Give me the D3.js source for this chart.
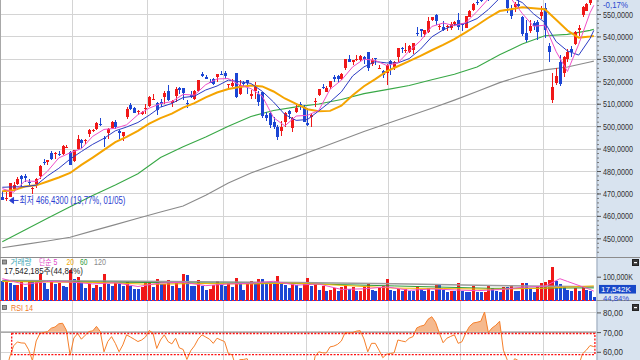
<!DOCTYPE html>
<html>
<head>
<meta charset="utf-8">
<script src="https://cdn.jsdelivr.net/npm/d3@7"></script>
<style>
  body { margin: 0; background: #fff; }
  svg { display: block; }
  text { font-family: "Liberation Sans", "Noto Sans CJK KR", sans-serif; }
</style>
</head>
<body>
<svg id="chart" width="640" height="360"></svg>
<script>
const dates = [
  "01/04","01/05","01/08","01/09","01/10","01/11","01/12","01/16","01/17","01/18","01/19","01/22","01/23","01/24","01/25","01/26","01/29","01/30","01/31",
  "02/01","02/02","02/05","02/06","02/07","02/08","02/09","02/12","02/13","02/14","02/15","02/16","02/20","02/21","02/22","02/23","02/26","02/27","02/28","02/29",
  "03/01","03/04","03/05","03/06","03/07","03/08","03/11","03/12","03/13","03/14","03/15","03/18","03/19","03/20","03/21","03/22","03/25","03/26","03/27","03/28",
  "04/01","04/02","04/03","04/04","04/05","04/08","04/09","04/10","04/11","04/12","04/15","04/16","04/17","04/18","04/19","04/22","04/23","04/24","04/25","04/26","04/29","04/30",
  "05/01","05/02","05/03","05/06","05/07","05/08","05/09","05/10","05/13","05/14","05/15","05/16","05/17","05/20","05/21","05/22","05/23","05/24","05/28","05/29","05/30","05/31",
  "06/03","06/04","06/05","06/06","06/07","06/10","06/11","06/12","06/13","06/14","06/17","06/18","06/20","06/21","06/24","06/25","06/26","06/27","06/28",
  "07/01","07/02","07/03","07/05","07/08","07/09","07/10","07/11","07/12","07/15","07/16","07/17","07/18","07/19","07/22","07/23","07/24","07/25","07/26","07/29","07/30","07/31",
  "08/01","08/02","08/05","08/06","08/07","08/08","08/09","08/12","08/13","08/14","08/15","08/16","08/19","08/20"
];

const open = [
  468.30,467.49,468.43,471.87,474.16,477.59,477.84,475.26,471.82,474.01,477.65,484.01,484.01,487.81,487.58,487.59,487.73,490.56,488.62,
  484.63,489.65,493.70,493.52,496.29,498.10,498.84,501.17,494.53,496.79,499.29,501.70,497.72,495.42,504.01,509.27,508.30,506.70,505.33,508.07,
  508.98,512.03,510.24,510.55,513.14,515.46,510.48,513.45,517.11,516.97,510.21,514.00,512.15,515.77,523.39,522.11,519.80,521.23,521.71,523.21,
  523.83,518.24,517.72,523.52,514.46,519.15,520.50,513.48,515.68,514.37,515.13,504.94,506.05,501.98,499.44,497.83,501.78,506.56,499.18,506.35,510.09,508.56,
  501.38,504.15,511.16,513.75,517.56,515.26,517.38,521.81,522.56,521.11,525.83,529.88,528.81,529.57,529.28,530.65,532.96,527.85,530.27,525.68,524.52,523.59,
  529.02,526.46,530.77,534.98,533.66,533.18,534.07,541.63,543.15,540.88,542.08,547.16,549.44,544.40,544.33,543.99,543.69,545.37,547.16,
  545.63,543.70,548.69,551.77,555.44,556.26,557.07,561.44,557.63,562.03,562.87,558.80,558.51,552.42,553.00,554.54,548.86,541.35,542.28,546.02,546.26,548.98,
  552.57,535.75,511.64,519.22,528.47,523.91,529.81,534.21,536.53,542.85,549.50,551.42,554.73,559.15
];
const high = [
  470.96,470.44,474.75,474.93,477.45,478.12,478.60,476.61,472.79,477.06,482.72,485.22,485.11,488.77,488.31,489.12,491.42,491.62,489.08,
  489.23,496.05,494.38,494.32,498.53,498.71,501.65,503.50,495.48,499.07,502.20,502.87,498.41,497.37,508.49,510.13,508.75,507.16,506.86,509.74,
  513.29,514.20,510.70,512.07,515.89,518.22,511.88,517.38,517.29,517.13,511.70,515.48,516.00,520.62,524.11,522.61,520.95,521.58,523.21,524.61,
  524.38,518.98,520.95,523.87,520.44,520.18,520.75,516.16,519.48,515.82,515.30,506.50,506.22,504.13,500.46,502.38,506.09,507.37,504.27,509.88,510.75,509.56,
  508.19,505.89,512.55,516.61,518.57,517.74,520.21,522.64,522.67,523.83,530.08,531.52,529.52,531.56,531.52,531.38,533.07,530.27,530.51,527.31,525.20,527.50,
  529.31,529.15,534.69,535.42,536.89,535.99,537.01,544.12,543.33,542.81,548.53,548.62,550.12,545.65,546.95,545.20,546.24,546.96,550.28,
  545.88,549.01,551.83,555.05,556.25,557.18,561.67,562.33,563.67,564.84,565.16,560.51,559.52,554.08,555.27,556.74,549.17,547.46,547.19,547.05,547.34,553.50,
  554.87,536.99,523.58,525.87,531.59,531.29,534.51,535.73,542.28,544.96,553.36,555.02,559.61,560.84
];
const low = [
  467.05,466.43,468.30,471.35,473.87,472.26,475.23,473.06,469.87,472.42,476.54,482.78,482.89,484.88,485.39,486.54,487.17,490.11,482.86,
  483.80,489.30,490.23,492.03,495.36,497.26,498.49,500.24,490.72,494.40,498.80,498.75,494.45,493.56,503.02,507.10,505.86,504.75,504.96,505.35,
  508.56,512.00,504.91,508.42,509.81,511.13,508.50,510.86,514.49,511.82,508.12,512.44,511.78,515.08,521.91,520.97,519.61,518.40,519.49,522.78,
  520.97,516.48,517.67,512.76,514.01,517.89,514.35,512.09,512.08,509.08,503.58,502.21,499.12,498.56,493.86,495.43,499.53,503.13,497.49,505.70,507.25,501.98,
  499.87,499.55,508.56,513.30,516.45,515.14,516.71,519.59,519.74,520.56,525.18,528.54,527.32,529.17,529.07,527.60,524.72,526.88,527.11,525.37,521.33,518.36,
  522.60,524.96,528.73,532.68,532.54,532.57,532.05,540.30,539.59,539.85,541.61,546.73,545.18,543.02,542.62,542.44,543.03,544.61,542.95,
  542.52,543.65,548.65,551.12,554.19,555.52,556.77,555.83,557.15,559.63,562.10,556.61,550.43,547.91,551.02,553.28,540.29,537.45,541.49,542.72,538.52,547.58,
  539.43,528.60,510.27,518.22,518.05,521.84,528.56,530.95,536.28,540.12,548.88,551.26,553.86,557.33
];
const close = [
  467.28,467.92,474.60,473.88,476.56,476.35,476.68,474.93,472.29,476.49,482.43,483.45,484.86,485.39,488.03,487.41,491.27,490.89,482.88,
  489.20,494.35,492.55,493.98,498.10,498.32,501.20,500.98,494.08,498.57,502.01,499.51,496.76,497.21,507.50,507.85,505.99,506.93,506.26,508.08,
  512.85,512.30,507.18,509.75,514.81,511.72,511.28,516.78,515.97,514.95,509.83,512.86,515.71,520.48,522.20,521.21,519.77,518.81,523.17,523.07,
  522.16,518.84,519.41,513.07,518.43,518.72,519.32,514.12,518.00,510.85,504.45,503.53,500.55,499.52,495.16,499.72,505.65,505.41,503.49,508.26,510.06,501.98,
  500.35,505.03,511.29,516.44,517.14,517.19,520.17,520.84,520.91,523.30,529.78,528.69,529.45,530.06,531.36,529.83,525.96,529.44,529.81,526.10,522.61,527.37,
  527.80,528.39,534.67,534.66,534.01,535.66,536.95,541.36,542.45,542.78,547.10,548.49,547.00,544.51,542.74,544.83,545.51,546.37,544.22,
  545.34,549.01,551.46,554.64,555.28,555.82,561.32,556.48,559.99,561.53,564.86,556.94,552.66,548.99,554.65,553.78,541.23,538.41,544.44,544.76,542.00,550.81,
  543.01,532.90,517.38,522.15,518.66,530.65,532.99,533.27,542.04,543.75,553.07,554.31,559.61,558.70
];
// volume, millions of shares
const volume = [
  84,86,74,65,67,77,58,85,82,86,110,75,49,81,72,76,61,58,126,
  91,99,76,55,70,52,64,56,113,68,62,76,71,60,78,61,50,49,56,77,
  81,56,89,68,71,86,62,73,55,110,107,61,60,88,60,47,48,65,82,66,
  62,76,59,96,74,45,68,83,70,92,92,73,75,74,102,68,64,55,75,64,53,77,
  94,63,71,45,61,42,44,52,43,57,67,50,59,42,43,57,69,44,42,53,60,91,
  46,40,48,40,51,42,42,61,50,40,55,41,71,64,45,38,41,40,76,
  40,38,38,60,36,36,38,66,53,40,38,57,56,65,43,42,75,74,53,39,61,73,
  78,86,141,84,70,63,45,42,52,42,60,44,39.1,17.54
];

// moving averages of price at sample days
const maDays = [0,3,6,9,12,15,18,21,24,27,30,33,36,39,42,45,48,51,54,57,60,63,66,69,72,75,78,81,84,87,90,93,96,99,102,105,108,111,114,117,120,123,126,129,132,135,138,141,144,147,150,153,156,157];
const ma5 = [472.14,470.49,475.61,475.35,479.90,485.83,488.10,489.97,495.46,498.54,499.03,500.60,505.10,508.02,510.03,510.95,514.14,513.86,518.49,521.03,521.21,518.38,516.73,513.35,503.78,500.12,504.51,504.83,507.02,516.45,520.48,526.43,529.88,529.28,527.07,528.17,533.48,538.09,544.44,545.97,544.79,546.09,551.15,556.71,560.84,557.00,550.26,544.52,545.00,533.25,524.37,536.54,550.56,553.89];
const ma10 = [472.75,472.93,473.00,473.70,477.79,481.20,485.31,488.68,491.90,494.56,497.93,499.61,501.64,504.89,508.47,510.12,512.76,513.37,516.13,517.90,520.54,519.79,519.03,515.52,510.75,505.16,502.57,502.96,506.80,510.79,515.27,522.39,526.44,528.77,528.20,528.20,530.11,534.33,539.81,542.90,545.18,545.80,547.94,551.99,557.04,557.39,555.11,550.07,546.21,537.71,533.53,531.68,539.05,542.71];
const ma20 = [471.00,471.43,473.08,473.60,475.35,477.10,479.12,482.72,485.99,489.41,492.85,495.24,497.94,501.15,503.57,505.58,508.28,510.29,512.86,514.99,516.53,517.49,518.11,517.73,515.46,512.33,509.93,507.53,506.66,506.81,509.12,513.76,517.78,520.95,524.39,526.69,528.99,531.33,533.84,536.20,538.76,541.80,544.99,548.34,551.33,552.13,553.00,552.58,552.08,547.41,542.64,539.43,539.96,540.21];
const longMaDays = [0,6,12,18,24,30,36,42,48,54,60,66,72,78,84,90,96,102,108,114,120,126,132,138,144,150,156,157];
const ma60 = [448.5,453.7,458.9,464.1,469.1,473.8,478.8,486.0,490.8,495.2,500.0,504.3,507.0,508.6,509.9,511.9,514.5,516.3,518.1,520.7,523.1,526.4,531.8,536.6,540.3,540.9,542.7,543.2];
const ma120 = [445.8,447.3,448.8,450.5,453.3,456.1,458.9,461.7,464.4,469.2,474.7,479.1,482.8,486.3,490.0,493.8,497.6,501.1,504.5,508.0,511.6,515.4,519.4,522.6,525.1,526.4,528.6,529.0];

// moving averages of volume (millions)
const volMa5Days = [0,6,12,18,24,30,36,42,48,54,60,66,72,78,84,90,96,102,108,114,120,126,132,138,144,148,150,156,157];
const volMa5 = [92,68.2,80.4,78.6,70.4,75,59.6,74.2,77.2,63.2,70.2,73.2,81.2,65.2,70,47.6,50.2,58,44.2,49.4,45.6,42.4,47,56.2,60.8,91.8,80.6,47.4,40.5];
const volMaDays = [0,13,26,39,52,65,78,91,104,117,130,143,157];
const volMa20 = [80,78,76.2,68.7,71.9,70.1,73.4,63.8,53.2,51.3,48.3,52.2,62.2];
const volLongDays = [0,26,52,78,104,130,157];
const volMa60 = [82,78,74,72,62,52,54];
const volMa120 = [84,82,79,76,71,64,59];

// RSI 14 per day
const rsi = [
  48.0,50.0,57.5,63.0,65.0,64.5,64.4,61.0,55.5,65.5,69.3,69.8,70.2,72.0,72.6,74.2,74.5,71.0,58.3,
  67.0,69.3,66.4,68.4,70.3,70.6,72.9,70.3,60.0,65.2,67.7,64.3,60.0,63.5,68.6,67.5,66.4,65.2,66.0,67.5,
  70.8,69.5,61.7,66.0,68.6,65.2,64.0,66.9,62.0,61.2,56.1,60.5,63.0,66.5,68.6,67.5,66.4,64.3,66.9,66.0,
  65.2,59.1,58.5,52.5,56.0,56.1,56.5,52.0,54.5,47.5,41.0,40.2,37.8,37.0,33.5,38.5,44.5,44.3,42.8,48.0,50.0,42.5,
  41.5,46.5,57.5,60.0,59.5,59.4,62.5,62.9,63.8,65.5,69.8,69.5,69.8,70.5,70.7,66.5,60.0,64.3,64.3,60.8,57.0,58.8,
  59.1,59.5,66.0,65.5,65.1,66.9,67.7,72.1,73.0,73.5,76.5,77.8,75.0,69.5,64.6,66.9,67.8,68.6,64.3,
  65.1,69.5,72.9,74.6,75.0,75.5,80.2,69.8,72.1,73.5,75.5,60.8,56.0,53.0,56.5,55.5,46.0,44.0,48.5,48.8,47.0,53.0,
  47.5,41.5,34.5,38.5,37.0,45.0,46.5,46.8,52.0,53.2,59.0,60.8,63.2,62.6
];

const priceTicks = [450,460,470,480,490,500,510,520,530,540,550];
const rsiTicks = [60,70,80];
const volTicks = [100];
const rsiBox = { from: "01/09", top: 69.3, bottom: 58.6 };
const lowMark = { date: "01/05", value: 466.43, label: "최저 466,4300 (19,77%, 01/05)" };
const changeLabel = "-0,17%";
const volumeLabel = "17,542,185주(44,84%)";
const lastVolLabel = "17,542K";
const lastVolPct = "44,84%";

// ---------- layout ----------
const plotL = 0.4, plotR = 596.5;
const priceBottom = 257, volTop = 257, volBottom = 301, rsiTop = 301, H = 360;
const RED = "#f01818", BLUE = "#1c46d4";

const svg = d3.select("#chart");
const defs = svg.append("defs");
function clip(id, x, y, w, h) {
  defs.append("clipPath").attr("id", id).append("rect")
    .attr("x", x).attr("y", y).attr("width", w).attr("height", h);
}
// squeeze a text horizontally to the given width, like the narrow HTS font
function squeeze(sel, width) {
  sel.each(function () {
    const el = d3.select(this);
    const w = this.getComputedTextLength();
    const sx = Math.min(1, width / w);
    const x0 = +el.attr("x") || 0;
    el.attr("x", x0 / sx).attr("transform", `scale(${sx},1)`);
  });
}

clip("cPrice", 0, 0, plotR, priceBottom);
clip("cVol", 0, volTop, plotR, volBottom - volTop);
clip("cRsi", 0, rsiTop, plotR, H - rsiTop);

const x = d3.scalePoint().domain(dates).range([plotL, 595.7]).padding(0.5);
const step = x.step();
const yPrice = d3.scaleLinear().domain([450, 550]).range([238.3, 14]);
const yVol = d3.scaleLinear().domain([0, 100]).range([301, 276.7]);
const yRsi = d3.scaleLinear().domain([60, 80]).range([351.8, 312.4]);
clip("cRsiOver", 0, rsiTop, plotR, yRsi(70) - rsiTop);

const candles = dates.map((d, i) => ({
  d, o: open[i], h: high[i], l: low[i], c: close[i], v: volume[i],
  vUp: i > 0 && volume[i] > volume[i - 1]
}));

// ---------- grid ----------
const grid = svg.append("g");
const monthStarts = dates.filter((d, i) => i > 0 && d.slice(0, 2) !== dates[i - 1].slice(0, 2));
grid.selectAll(".vg").data(monthStarts).join("line")
  .attr("x1", d => Math.round(x(d) - step / 2) + 0.5).attr("x2", d => Math.round(x(d) - step / 2) + 0.5)
  .attr("y1", 0).attr("y2", H)
  .attr("stroke", "#d4d4d4");
grid.selectAll(".hg").data(priceTicks).join("line")
  .attr("x1", 0).attr("x2", plotR)
  .attr("y1", d => Math.round(yPrice(d)) + 0.5).attr("y2", d => Math.round(yPrice(d)) + 0.5)
  .attr("stroke", "#d4d4d4");
grid.selectAll(".rg").data([60, 80]).join("line")
  .attr("x1", 0).attr("x2", plotR)
  .attr("y1", d => Math.round(yRsi(d)) + 0.5).attr("y2", d => Math.round(yRsi(d)) + 0.5)
  .attr("stroke", "#d4d4d4");
grid.append("line")
  .attr("x1", 0).attr("x2", plotR)
  .attr("y1", yRsi(70)).attr("y2", yRsi(70))
  .attr("stroke", "#8e8e8e").attr("stroke-width", 1.3);

// ---------- price panel ----------
const pg = svg.append("g").attr("clip-path", "url(#cPrice)");

const maLine = (days, vals, scale) => d3.line()
  .x((v, k) => x(dates[days[k]]))
  .y(v => scale(v))(vals);

pg.append("path").attr("d", maLine(longMaDays, ma120, yPrice))
  .attr("fill", "none").attr("stroke", "#8a8a8a").attr("stroke-width", 1.1);
pg.append("path").attr("d", maLine(longMaDays, ma60, yPrice))
  .attr("fill", "none").attr("stroke", "#38a846").attr("stroke-width", 1.1);

const cg = pg.append("g").attr("shape-rendering", "crispEdges");
cg.selectAll("line").data(candles).join("line")
  .attr("x1", d => Math.round(x(d.d)) + 0.5).attr("x2", d => Math.round(x(d.d)) + 0.5)
  .attr("y1", d => yPrice(d.h)).attr("y2", d => yPrice(d.l))
  .attr("stroke", d => d.c >= d.o ? RED : BLUE);
cg.selectAll("rect").data(candles).join("rect")
  .attr("x", d => Math.round(x(d.d)) - 1)
  .attr("width", 3)
  .attr("y", d => yPrice(Math.max(d.o, d.c)))
  .attr("height", d => Math.max(1, Math.abs(yPrice(d.o) - yPrice(d.c))))
  .attr("fill", d => d.c >= d.o ? RED : BLUE);

pg.append("path").attr("d", maLine(maDays, ma20, yPrice))
  .attr("fill", "none").attr("stroke", "#f5a400").attr("stroke-width", 2);
pg.append("path").attr("d", maLine(maDays, ma10, yPrice))
  .attr("fill", "none").attr("stroke", "#2c3cc4").attr("stroke-width", 1);
pg.append("path").attr("d", maLine(maDays, ma5, yPrice))
  .attr("fill", "none").attr("stroke", "#f050c8").attr("stroke-width", 1);

// low marker
const lx = x(lowMark.date) + 3.5, ly = yPrice(lowMark.value) - 1;
pg.append("path")
  .attr("d", `M${lx},${ly} l4,-3 v6 z M${lx + 3},${ly} h6`)
  .attr("fill", "#2a3ed0").attr("stroke", "#2a3ed0").attr("stroke-width", 1);
pg.append("text")
  .attr("x", lx + 10).attr("y", ly).attr("dy", "0.35em")
  .attr("font-size", 10).attr("fill", "#2a3ed0")
  .text(lowMark.label)
  .call(squeeze, 106);

// ---------- volume panel ----------
const vg = svg.append("g").attr("clip-path", "url(#cVol)");
vg.append("g").attr("shape-rendering", "crispEdges")
  .selectAll("rect").data(candles).join("rect")
  .attr("x", d => Math.round(x(d.d)) - 1)
  .attr("width", 2.5)
  .attr("y", d => yVol(d.v))
  .attr("height", d => yVol(0) - yVol(d.v))
  .attr("fill", d => d.vUp ? RED : BLUE);

vg.append("path").attr("d", maLine(volLongDays, volMa120, yVol))
  .attr("fill", "none").attr("stroke", "#9a9a9a").attr("stroke-width", 1.5);
vg.append("path").attr("d", maLine(volLongDays, volMa60, yVol))
  .attr("fill", "none").attr("stroke", "#2f9a3a").attr("stroke-width", 1);
vg.append("path").attr("d", maLine(volMaDays, volMa20, yVol))
  .attr("fill", "none").attr("stroke", "#f2b400").attr("stroke-width", 1);
vg.append("path").attr("d", maLine(volMa5Days, volMa5, yVol))
  .attr("fill", "none").attr("stroke", "#f050c8").attr("stroke-width", 1);

// ---------- RSI panel ----------
const rg = svg.append("g").attr("clip-path", "url(#cRsi)");
rg.append("g").attr("clip-path", "url(#cRsiOver)")
  .append("path")
  .datum(rsi)
  .attr("d", d3.area().x((v, i) => x(dates[i])).y0(yRsi(70)).y1(v => yRsi(v)))
  .attr("fill", "#f5b98e");
rg.append("path")
  .datum(rsi)
  .attr("d", d3.line().x((v, i) => x(dates[i])).y(v => yRsi(v)))
  .attr("fill", "none").attr("stroke", "#f57f2a").attr("stroke-width", 1);

const bx0 = x(rsiBox.from) - step / 2, bx1 = x(dates[dates.length - 1]) + step / 2 - 0.8;
rg.append("rect")
  .attr("x", bx0).attr("y", yRsi(rsiBox.top))
  .attr("width", bx1 - bx0).attr("height", yRsi(rsiBox.bottom) - yRsi(rsiBox.top))
  .attr("fill", "none").attr("stroke", "#ff1010").attr("stroke-width", 1.3)
  .attr("stroke-dasharray", "2,1.4");

// ---------- frame & separators ----------
svg.append("line").attr("x1", 0.5).attr("x2", 0.5).attr("y1", 0).attr("y2", H)
  .attr("stroke", "#a8a8a8");
svg.append("line").attr("x1", 0).attr("x2", 640).attr("y1", 257.5).attr("y2", 257.5)
  .attr("stroke", "#8c8c8c");
svg.append("line").attr("x1", 0).attr("x2", plotR).attr("y1", 300.5).attr("y2", 300.5)
  .attr("stroke", "#ff2020").attr("stroke-dasharray", "2,2");
svg.append("line").attr("x1", 0).attr("x2", plotR).attr("y1", 300.5).attr("y2", 300.5)
  .attr("stroke", "#2040e0").attr("stroke-dasharray", "2,2").attr("stroke-dashoffset", 2);

// ---------- right axis panel ----------
const ax = svg.append("g");
ax.append("rect").attr("x", plotR).attr("y", 0).attr("width", 640 - plotR).attr("height", H)
  .attr("fill", "#d8e3ef");
ax.append("line").attr("x1", plotR + 0.5).attr("x2", plotR + 0.5).attr("y1", 0).attr("y2", H)
  .attr("stroke", "#98a6b8");
ax.append("line").attr("x1", plotR).attr("x2", 640).attr("y1", 257.5).attr("y2", 257.5)
  .attr("stroke", "#8c8c8c");
ax.append("line").attr("x1", plotR).attr("x2", 640).attr("y1", 300.5).attr("y2", 300.5)
  .attr("stroke", "#8c8c8c");

function styleAxis(g, width) {
  g.select(".domain").remove();
  g.selectAll("line").attr("stroke", "#555");
  g.selectAll("text")
    .attr("font-family", "Liberation Sans, sans-serif")
    .attr("font-size", 9.5).attr("fill", "#303030")
    .call(squeeze, width);
}

const minorTicks = d3.range(444, 557, 2);
ax.append("g").attr("transform", `translate(${plotR + 0.5},0)`)
  .call(d3.axisRight(yPrice).tickValues(minorTicks).tickSize(2).tickFormat(""))
  .call(g => { g.select(".domain").remove(); g.selectAll("line").attr("stroke", "#777"); });
ax.append("g").attr("transform", `translate(${plotR + 0.5},0)`)
  .call(d3.axisRight(yPrice).tickValues(priceTicks).tickSize(4).tickPadding(2).tickFormat(d => d + ",0000"))
  .call(g => styleAxis(g, 30));

ax.append("g").attr("transform", `translate(${plotR + 0.5},0)`)
  .call(d3.axisRight(yVol).tickValues(volTicks).tickSize(4).tickPadding(2).tickFormat(d => d + ",000K"))
  .call(g => styleAxis(g, 30));

ax.append("g").attr("transform", `translate(${plotR + 0.5},0)`)
  .call(d3.axisRight(yRsi).tickValues(rsiTicks).tickSize(4).tickPadding(2).tickFormat(d => d + ",00"))
  .call(g => styleAxis(g, 20));

// current volume tag
const lastV = yVol(volume[volume.length - 1]);
ax.append("rect").attr("x", 599).attr("y", lastV - 11.8).attr("width", 37).attr("height", 8.6)
  .attr("fill", "#1848c8");
ax.append("text").attr("x", 601).attr("y", lastV - 7.5).attr("dy", "0.35em")
  .attr("font-size", 8).attr("fill", "#fff")
  .text(lastVolLabel)
  .call(squeeze, 31);
ax.append("text").attr("x", 603).attr("y", lastV + 1).attr("dy", "0.35em")
  .attr("font-size", 8).attr("fill", "#2848d0")
  .text(lastVolPct)
  .call(squeeze, 26);

// price change at the top of the axis
ax.append("text").attr("x", 603).attr("y", 7.5)
  .attr("font-size", 9).attr("fill", "#2848d0")
  .text(changeLabel)
  .call(squeeze, 25);

// panel buttons
[259, 304].forEach(y0 => {
  ax.append("rect").attr("x", 632.5).attr("y", y0 + 0.5).attr("width", 6).attr("height", 6)
    .attr("fill", "#3a3a3a").attr("stroke", "#222");
  ax.append("rect").attr("x", 634).attr("y", y0 + 3).attr("width", 3).attr("height", 1.2)
    .attr("fill", "#fff");
});

// ---------- panel titles ----------
const tg = svg.append("g").attr("font-size", 8.5);
[259.5, 305].forEach(y0 => {
  tg.append("rect").attr("x", 2.5).attr("y", y0 + 0.5).attr("width", 4).attr("height", 4)
    .attr("fill", "#9a9a9a").attr("stroke", "#5a5a5a").attr("stroke-width", 0.8);
});
const volLegend = [
  { t: "거래량", c: "#3aa4b2", x0: 10.5, w: 21 },
  { t: "단순 5", c: "#e044c8", x0: 39, w: 18.5 },
  { t: "20", c: "#f0a800", x0: 66.5, w: 7.5 },
  { t: "60", c: "#2f9a3a", x0: 80, w: 7.5 },
  { t: "120", c: "#8a8a8a", x0: 94, w: 12 }
];
tg.selectAll(".leg").data(volLegend).join("text")
  .attr("x", d => d.x0).attr("y", 261.7).attr("dy", "0.35em")
  .attr("fill", d => d.c)
  .text(d => d.t)
  .each(function (d) { d3.select(this).call(squeeze, d.w); });
tg.append("text").attr("x", 4).attr("y", 271.2).attr("dy", "0.35em")
  .attr("fill", "#222")
  .text(volumeLabel)
  .call(squeeze, 79);
tg.append("text").attr("x", 11).attr("y", 307.6).attr("dy", "0.35em")
  .attr("font-size", 9).attr("fill", "#f07a2a")
  .text("RSI 14")
  .call(squeeze, 22);
</script>
</body>
</html>
